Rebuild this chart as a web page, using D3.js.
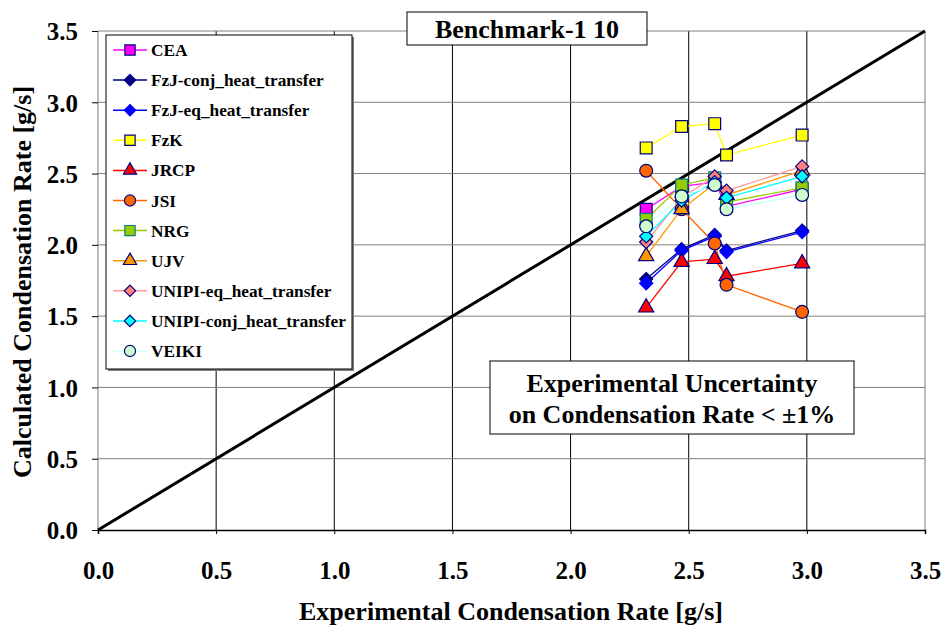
<!DOCTYPE html>
<html><head><meta charset="utf-8">
<script src="https://cdn.jsdelivr.net/npm/d3@7"></script>
<style>body{margin:0;background:#fff}svg{display:block}text{font-family:"Liberation Serif","Times New Roman",serif;font-weight:bold}</style>
</head><body><svg id="c" width="945" height="628"></svg>
<script>
const xValues = [2.32, 2.47, 2.61, 2.66, 2.98];
const seriesNames = ["CEA","FzJ-conj_heat_transfer","FzJ-eq_heat_transfer","FzK","JRCP","JSI","NRG","UJV","UNIPI-eq_heat_transfer","UNIPI-conj_heat_transfer","VEIKI"];
const CEA = [2.25, 2.41, 2.44, 2.27, 2.39];
const FzJconj = [1.76, 1.97, 2.07, 1.96, 2.10];
const FzJeq = [1.73, 1.96, 2.06, 1.95, 2.09];
const FzK = [2.68, 2.83, 2.85, 2.63, 2.77];
const JRCP = [1.56, 1.88, 1.90, 1.78, 1.87];
const JSI = [2.52, 2.25, 2.01, 1.72, 1.53];
const NRG = [2.18, 2.42, 2.47, 2.30, 2.40];
const UJV = [1.92, 2.25, 2.43, 2.35, 2.52];
const UNIPIeq = [2.02, 2.33, 2.48, 2.38, 2.55];
const UNIPIconj = [2.06, 2.31, 2.44, 2.33, 2.48];
const VEIKI = [2.13, 2.34, 2.42, 2.25, 2.35];
const ticks = [0,0.5,1,1.5,2,2.5,3,3.5];

const seriesData = [CEA,FzJconj,FzJeq,FzK,JRCP,JSI,NRG,UJV,UNIPIeq,UNIPIconj,VEIKI];
const styles = [
 {line:"#FF00FF", fill:"#FF00FF", stroke:"#000080", sym:"square"},
 {line:"#000080", fill:"#000080", stroke:"#000080", sym:"diamond"},
 {line:"#0000FF", fill:"#0000FF", stroke:"#0000FF", sym:"diamond"},
 {line:"#FFFF00", fill:"#FFFF00", stroke:"#000080", sym:"square"},
 {line:"#FF0000", fill:"#FF0000", stroke:"#000080", sym:"triangle"},
 {line:"#FF6600", fill:"#FF6600", stroke:"#000080", sym:"circle"},
 {line:"#99CC00", fill:"#99CC00", stroke:"#008080", sym:"square"},
 {line:"#FF9900", fill:"#FF9900", stroke:"#000080", sym:"triangle"},
 {line:"#FF9999", fill:"#FF8080", stroke:"#000080", sym:"diamond"},
 {line:"#00FFFF", fill:"#00FFFF", stroke:"#000080", sym:"diamond"},
 {line:"#CCFFFF", fill:"#CCFFCC", stroke:"#000080", sym:"circle"}
];
const symMap = {square:d3.symbolSquare, diamond:(d3.symbolDiamond2||d3.symbolDiamond), triangle:d3.symbolTriangle, circle:d3.symbolCircle};
const symSize = {square:140, diamond:110, triangle:100, circle:130};

const svg = d3.select("#c");
const x = d3.scaleLinear().domain([0,3.5]).range([98,925]);
const y = d3.scaleLinear().domain([0,3.5]).range([530,31]);

// grid
svg.append("g").selectAll("line.v").data(ticks.slice(1)).join("line")
  .attr("x1",d=>x(d)).attr("x2",d=>x(d)).attr("y1",y(0)).attr("y2",y(3.5))
  .attr("stroke",d=>d===3.5?"#808080":"#000").attr("stroke-width",1);
svg.append("g").selectAll("line.h").data(ticks.slice(1)).join("line")
  .attr("x1",x(0)).attr("x2",x(3.5)).attr("y1",d=>y(d)).attr("y2",d=>y(d))
  .attr("stroke","#808080").attr("stroke-width",1);
svg.append("line").attr("x1",x(0)).attr("x2",x(0)).attr("y1",y(0)).attr("y2",y(3.5)).attr("stroke","#808080");

// axes
const xAxis = svg.append("g").attr("transform",`translate(0,${y(0)})`).call(d3.axisBottom(x).tickValues(ticks).tickFormat(d3.format(".1f")).tickSize(4).tickPadding(27));
xAxis.select(".domain").attr("stroke","#000").attr("stroke-width",1.5);
xAxis.selectAll("text").attr("font-size",25).attr("font-family","Liberation Serif").attr("font-weight","bold").attr("fill","#000");
const yAxis = svg.append("g").attr("transform",`translate(${x(0)},0)`).call(d3.axisLeft(y).tickValues(ticks).tickFormat(d3.format(".1f")).tickSize(6).tickPadding(14));
yAxis.select(".domain").remove();
yAxis.selectAll("text").attr("font-size",25).attr("font-family","Liberation Serif").attr("font-weight","bold").attr("fill","#000").attr("dy","0.35em");

// diagonal
svg.append("line").attr("x1",x(0)).attr("y1",y(0)).attr("x2",x(3.5)).attr("y2",y(3.5)).attr("stroke","#000").attr("stroke-width",3);

// series lines
const line = d3.line().x((d,i)=>x(xValues[i])).y(d=>y(d));
seriesData.forEach((s,k)=>{
  svg.append("path").attr("d",line(s)).attr("fill","none").attr("stroke",styles[k].line).attr("stroke-width",1.3);
});
seriesData.forEach((s,k)=>{
  const st = styles[k];
  svg.append("g").selectAll("path").data(s).join("path")
    .attr("transform",(d,i)=>`translate(${x(xValues[i])},${y(d)})`)
    .attr("d",d3.symbol(symMap[st.sym],symSize[st.sym]))
    .attr("fill",st.fill).attr("stroke",st.stroke).attr("stroke-width",1.2);
});

// legend
const lg = svg.append("g");
lg.append("rect").attr("x",108).attr("y",37).attr("width",246).attr("height",334).attr("fill","#808080");
lg.append("rect").attr("x",106).attr("y",35).attr("width",246).attr("height",334).attr("fill","#fff").attr("stroke","#000").attr("stroke-width",1);
seriesNames.forEach((n,k)=>{
  const st = styles[k];
  const yy = 50 + k*30.1;
  lg.append("line").attr("x1",113).attr("x2",147).attr("y1",yy).attr("y2",yy).attr("stroke",st.line).attr("stroke-width",1.5);
  lg.append("path").attr("transform",`translate(130,${yy})`).attr("d",d3.symbol(symMap[st.sym],symSize[st.sym]*0.75))
    .attr("fill",st.fill).attr("stroke",st.stroke).attr("stroke-width",1.2);
  lg.append("text").attr("x",151).attr("y",yy).attr("dy","0.35em").attr("font-size",17.3).text(n);
});

// title box
svg.append("rect").attr("x",407).attr("y",12).attr("width",240).attr("height",33).attr("fill","#fff").attr("stroke","#000");
svg.append("text").attr("x",527).attr("y",29).attr("dy","0.35em").attr("text-anchor","middle").attr("font-size",26).text("Benchmark-1 10");

// uncertainty box
svg.append("rect").attr("x",490).attr("y",361).attr("width",364).attr("height",73).attr("fill","#fff").attr("stroke","#000");
svg.append("text").attr("x",672).attr("y",383).attr("dy","0.35em").attr("text-anchor","middle").attr("font-size",26).text("Experimental Uncertainty");
svg.append("text").attr("x",672).attr("y",414).attr("dy","0.35em").attr("text-anchor","middle").attr("font-size",26).text("on Condensation Rate < ±1%");

// axis titles
svg.append("text").attr("x",511).attr("y",611).attr("dy","0.35em").attr("text-anchor","middle").attr("font-size",26).text("Experimental Condensation Rate [g/s]");
svg.append("text").attr("transform","translate(22,282) rotate(-90)").attr("dy","0.35em").attr("text-anchor","middle").attr("font-size",26).text("Calculated Condensation Rate [g/s]");
</script></body></html>
